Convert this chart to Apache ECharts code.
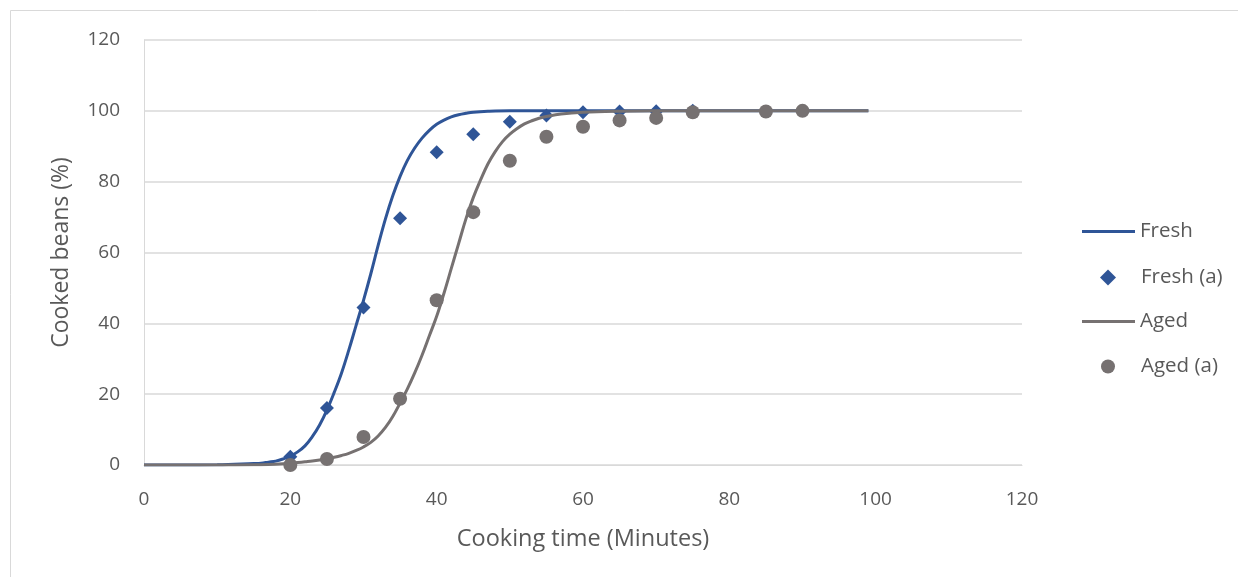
<!DOCTYPE html>
<html>
<head>
<meta charset="utf-8">
<script src="https://cdn.jsdelivr.net/npm/echarts@6/dist/echarts.min.js"></script>
<style>
html,body{margin:0;padding:0;background:#fff;}
#chart{width:1238px;height:577px;}
</style>
</head>
<body>
<div id="chart"></div>
<script>
// Fitted curves
const freshCurveX = [0, 5, 10, 15, 16, 17, 18, 19, 20, 21, 22, 23, 24, 25, 26, 27, 28, 29, 30, 31, 32, 33, 34, 35, 36, 37, 38, 39, 40, 41, 42, 43, 44, 45, 47, 50, 60, 70, 80, 90, 99];
const freshCurveY = [0, 0, 0.05, 0.4, 0.5, 0.8, 1.1, 1.7, 2.5, 3.7, 5.4, 8, 11.3, 15.5, 20.5, 26, 32.5, 39.5, 46.5, 54, 62, 69.5, 76, 81.5, 86, 89.5, 92.3, 94.5, 96.2, 97.4, 98.3, 98.9, 99.3, 99.6, 99.85, 100, 100, 100, 100, 100, 100];
const agedCurveX  = [0, 5, 10, 15, 17, 19, 20, 21, 22, 23, 24, 25, 26, 27, 28, 29, 30, 31, 32, 33, 34, 35, 36, 37, 38, 39, 40, 41, 42, 43, 44, 45, 46, 47, 48, 49, 50, 51, 52, 53, 54, 55, 57, 60, 65, 70, 80, 90, 99];
const agedCurveY  = [0, 0, 0, 0.05, 0.15, 0.35, 0.5, 0.7, 0.9, 1.1, 1.4, 1.8, 2.2, 2.7, 3.3, 4.1, 5.1, 6.4, 8.2, 10.6, 13.7, 17.5, 21.5, 26, 31, 36.5, 42, 48.5, 55.5, 62.5, 69.5, 75.5, 80.5, 85, 88.5, 91.3, 93.4, 95, 96.3, 97.2, 97.9, 98.4, 99.1, 99.6, 99.9, 100, 100, 100, 100];
// Measured points
const freshPtsX   = [20, 25, 30, 35, 40, 45, 50, 55, 60, 65, 70, 75];
const freshPtsY   = [2.3, 16.1, 44.5, 69.7, 88.3, 93.4, 96.9, 98.7, 99.6, 99.8, 99.9, 100];
const agedPtsX    = [20, 25, 30, 35, 40, 45, 50, 55, 60, 65, 70, 75, 85, 90];
const agedPtsY    = [0, 1.7, 7.9, 18.7, 46.5, 71.4, 85.9, 92.7, 95.5, 97.3, 98, 99.6, 99.8, 100];
const seriesNames = ['Fresh', 'Fresh (a)', 'Aged', 'Aged (a)'];

const BLUE = '#2F5597';
const GRAY = '#767171';
const TXT = '#595959';
const FONT = '"Open Sans", "Noto Sans", sans-serif';

const zip = (xs, ys) => xs.map((x, i) => [x, ys[i]]);

const chart = echarts.init(document.getElementById('chart'), null, {renderer: 'canvas'});

function legendAt(name, left, top, icon, w, h, padLeft) {
  return {
    data: [{name: name, icon: icon}],
    left: left, top: top, orient: 'vertical', padding: 0,
    itemWidth: w, itemHeight: h, itemGap: 0,
    selectedMode: false,
    textStyle: {color: TXT, fontSize: 20.5, fontFamily: FONT, padding: [0, 0, 0, padLeft]}
  };
}

const DIAMOND = 'path://M5,0L10,5L5,10L0,5Z';

chart.setOption({
  animation: false,
  backgroundColor: '#fff',
  graphic: [{
    type: 'rect', silent: true,
    shape: {x: 10.5, y: 10.5, width: 1300, height: 700},
    style: {fill: 'none', stroke: '#D9D9D9', lineWidth: 1}
  }],
  grid: {left: 144, right: 216, top: 40, bottom: 112, containLabel: false},
  legend: [
    legendAt(seriesNames[0], 1082, 221, 'rect', 53, 3, 0),
    legendAt(seriesNames[1], 1100, 267, DIAMOND, 16, 16, 20),
    legendAt(seriesNames[2], 1082, 311, 'rect', 53, 3, 0),
    legendAt(seriesNames[3], 1101, 356, 'circle', 14, 14, 21)
  ],
  xAxis: {
    type: 'value', min: 0, max: 120, interval: 20,
    name: 'Cooking time (Minutes)', nameLocation: 'middle', nameGap: 62,
    nameTextStyle: {color: TXT, fontSize: 23.5, fontFamily: FONT},
    axisLine: {show: true, lineStyle: {color: '#D9D9D9', width: 1}},
    axisTick: {show: false},
    splitLine: {show: false},
    axisLabel: {color: TXT, fontSize: 19, fontFamily: FONT, margin: 25}
  },
  yAxis: {
    type: 'value', min: 0, max: 120, interval: 20,
    name: 'Cooked beans (%)', nameLocation: 'middle', nameGap: 71, nameRotate: 90,
    nameTextStyle: {color: TXT, fontSize: 23, fontFamily: FONT},
    axisLine: {show: true, lineStyle: {color: '#D9D9D9', width: 1}},
    axisTick: {show: false},
    splitLine: {show: true, lineStyle: {color: '#D9D9D9', width: 1.5}},
    axisLabel: {color: TXT, fontSize: 19, fontFamily: FONT, margin: 24}
  },
  series: [
    {
      name: seriesNames[0], type: 'line', data: zip(freshCurveX, freshCurveY),
      smooth: 0.4, showSymbol: false, symbol: 'none',
      lineStyle: {color: BLUE, width: 3}, itemStyle: {color: BLUE}, z: 2
    },
    {
      name: seriesNames[1], type: 'scatter', data: zip(freshPtsX, freshPtsY),
      symbol: 'diamond', symbolSize: 14, itemStyle: {color: BLUE, opacity: 1}, z: 3
    },
    {
      name: seriesNames[2], type: 'line', data: zip(agedCurveX, agedCurveY),
      smooth: 0.4, showSymbol: false, symbol: 'none',
      lineStyle: {color: GRAY, width: 3}, itemStyle: {color: GRAY}, z: 4
    },
    {
      name: seriesNames[3], type: 'scatter', data: zip(agedPtsX, agedPtsY),
      symbol: 'circle', symbolSize: 14, itemStyle: {color: GRAY, opacity: 1}, z: 5
    }
  ]
});
</script>
</body>
</html>
